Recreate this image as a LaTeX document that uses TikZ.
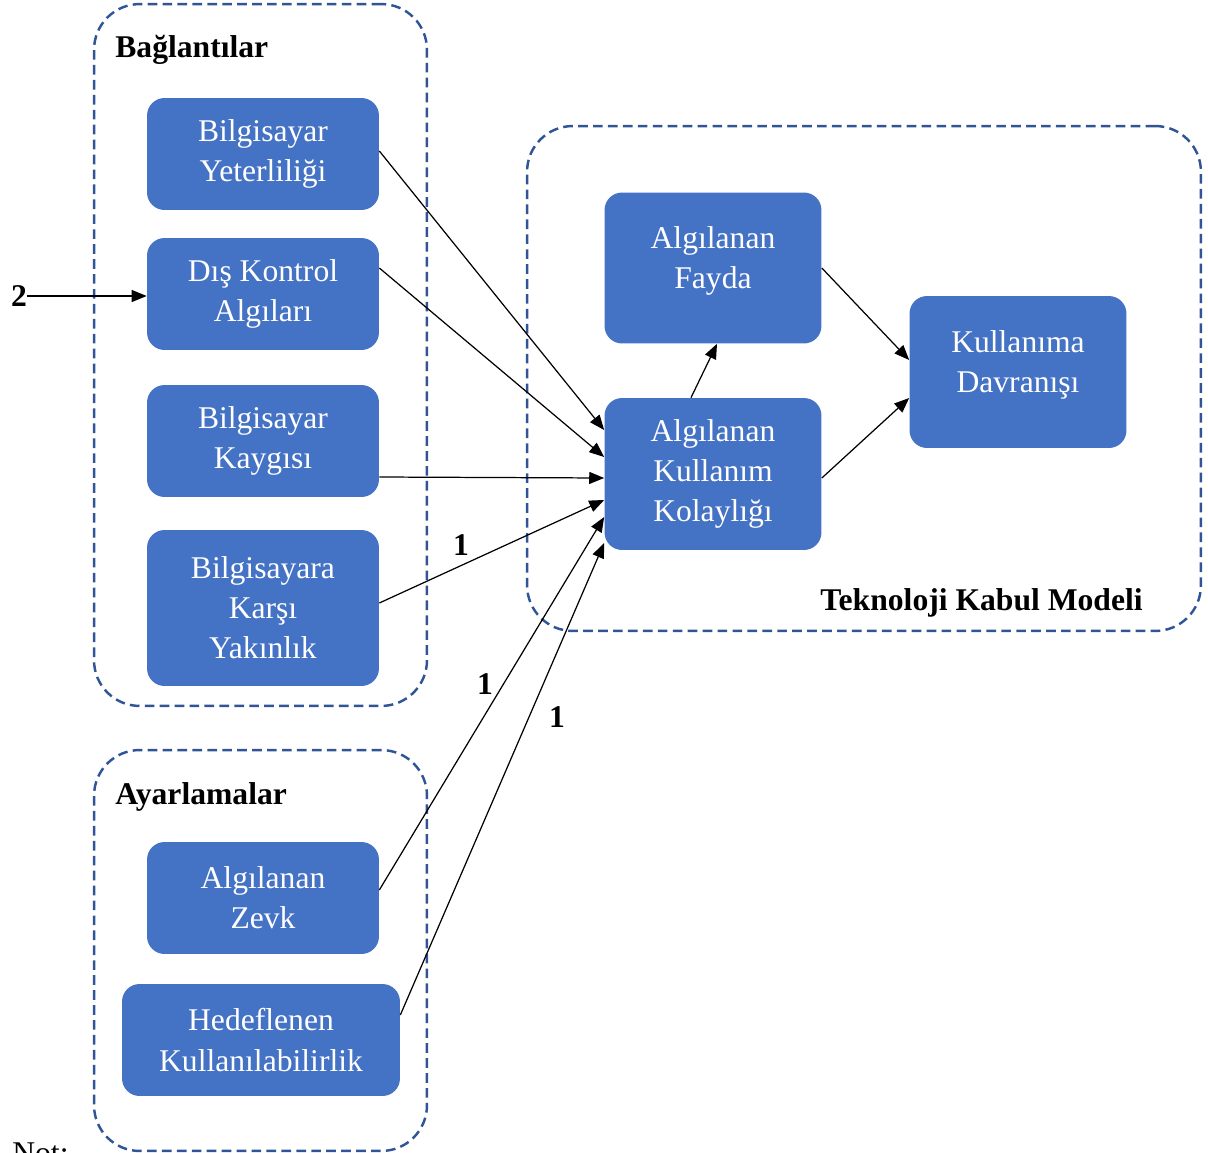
\documentclass[tikz,border=0pt]{standalone}
\usepackage{fontspec}
\setmainfont{Liberation Serif}
\usetikzlibrary{arrows.meta,calc}
\definecolor{boxblue}{HTML}{4472C4}
\definecolor{frameblue}{HTML}{2F5597}

\begin{document}
\begin{tikzpicture}[x=0.02cm,y=-0.02cm,
  every node/.style={font=\fontsize{18}{22.8}\selectfont},
  konu/.style={rectangle,rounded corners=10pt,fill=boxblue,text=white,align=center,minimum width=4.64cm,minimum height=2.24cm,inner sep=0pt},
  grup/.style={rectangle,rounded corners=26pt,draw=frameblue,line width=1.4pt,dash pattern=on 5.5pt off 3pt,inner sep=0pt},
  baslik/.style={font=\fontsize{18}{22.8}\selectfont\bfseries,inner sep=0pt},
  ok/.style={-{Triangle[length=8.5pt,width=6.8pt]},line width=0.7pt}
]
\useasboundingbox (0,0) rectangle (1208,1153);

% dashed groups
\node[grup,minimum width=6.66cm,minimum height=14.04cm] (baglanti) at (260.5,355) {};
\node[grup,minimum width=6.66cm,minimum height=8.02cm] (ayar) at (260.5,950.5) {};
\node[grup,minimum width=13.48cm,minimum height=10.1cm] (tkm) at (864,378.5) {};
\node[baslik,anchor=base west] (baglantiad) at (115,57) {Bağlantılar};
\node[baslik,anchor=base west] (ayarad) at (115,804) {Ayarlamalar};
\node[baslik,anchor=base east] (tkmad) at (1143,610) {Teknoloji Kabul Modeli};

% left column
\node[konu] (yeter) at (263,154) {Bilgisayar\\Yeterliliği};
\node[konu] (dis) at (263,294) {Dış Kontrol\\Algıları};
\node[konu] (kaygi) at (263,441) {Bilgisayar\\Kaygısı};
\node[konu,minimum height=3.12cm] (yakin) at (263,608) {Bilgisayara\\Karşı\\Yakınlık};
\node[konu] (zevk) at (263,898) {Algılanan\\Zevk};
\node[konu,minimum width=5.56cm] (hedef) at (261,1040) {Hedeflenen\\Kullanılabilirlik};

% model boxes
\node[konu,minimum width=4.34cm,minimum height=3.02cm,text depth=0.42cm] (fayda) at (713,268) {Algılanan\\Fayda};
\node[konu,minimum width=4.34cm,minimum height=3.04cm] (kolay) at (713,474) {Algılanan\\Kullanım\\Kolaylığı};
\node[konu,minimum width=4.34cm,minimum height=3.04cm,text depth=0.42cm] (davranis) at (1018,372) {Kullanıma\\Davranışı};

\node[baslik] (iki) at (19,296) {2};
\node[baslik] (bir1) at (461,545) {1};
\node[baslik] (bir2) at (485,684) {1};
\node[baslik] (bir3) at (557,717) {1};
\node[anchor=base west,inner sep=0pt] (not) at (12,1163) {Not:};

% connectors
\draw[ok] (iki.east) -- (iki.east -| dis.west);
\draw[ok] ($(yeter.east)+(0,-3)$) -- ($(kolay.west)+(0,-44)$);
\draw[ok] ($(dis.east)+(0,-26)$) -- ($(kolay.west)+(0,-17)$);
\draw[ok] ($(kaygi.east)+(0,36)$) -- ($(kolay.west)+(0,4)$);
\draw[ok] ($(yakin.east)+(0,-5)$) -- ($(kolay.west)+(0,26)$);
\draw[ok] ($(zevk.east)+(0,-8)$) -- ($(kolay.west)+(0,43)$);
\draw[ok] ($(hedef.east)+(0,-25)$) -- ($(kolay.west)+(0,69)$);
\draw[ok] ($(kolay.north)+(-22,0)$) -- ($(fayda.south)+(4,0)$);
\draw[ok] (fayda.east) -- ($(davranis.west)+(0,-12)$);
\draw[ok] ($(kolay.east)+(0,4)$) -- ($(davranis.west)+(0,26)$);
\end{tikzpicture}
\end{document}
